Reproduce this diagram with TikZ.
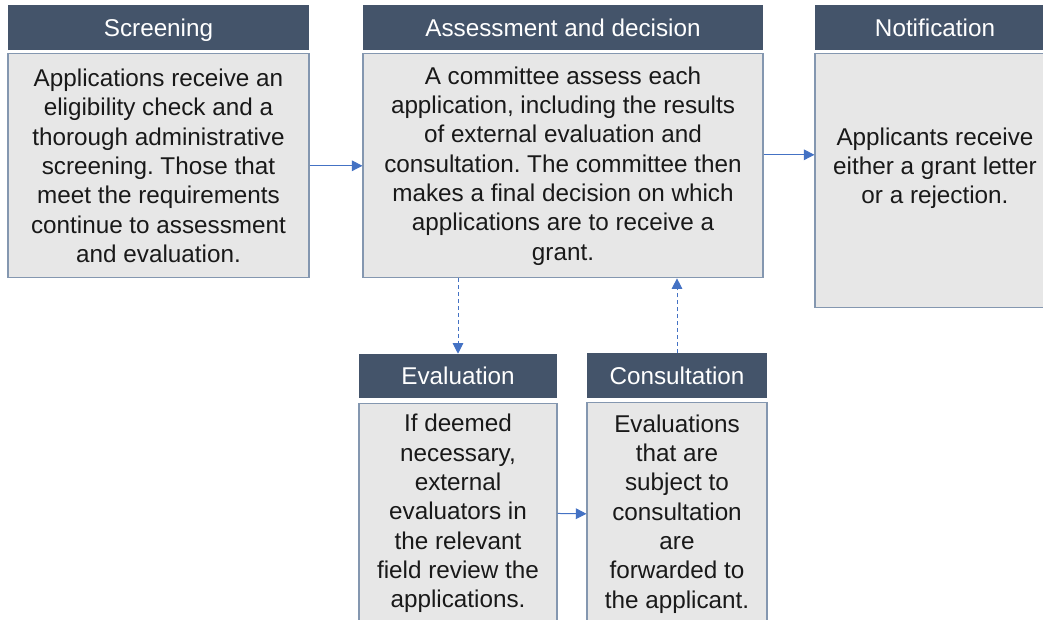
\documentclass[tikz,border=0pt]{standalone}
\usepackage{fontspec}
\setmainfont{Liberation Sans}
\frenchspacing
\usepackage{tikz}
\usetikzlibrary{positioning, arrows.meta}
\definecolor{headblue}{HTML}{44546A}
\definecolor{boxgray}{HTML}{E7E7E7}
\definecolor{boxline}{HTML}{8497B0}
\definecolor{arrowblue}{HTML}{4472C4}
\tikzstyle{stephead} = [rectangle, minimum height=33.75pt, inner sep=0pt, text height=13pt, text depth=0pt, text centered, fill=headblue, text=white, font=\fontsize{18.2}{22}\selectfont]
\tikzstyle{stepbody} = [rectangle, inner sep=0pt, align=center, draw=boxline, line width=0.8pt, fill=boxgray, text=black!90, font=\fontsize{18.2}{22}\selectfont]
\tikzstyle{arrow} = [draw=arrowblue, line width=0.75pt, -{Triangle[length=8pt,width=8pt]}]
\tikzstyle{dasharrow} = [arrow, dash pattern=on 3pt off 2.2pt]

\begin{document}
\begin{tikzpicture}[x=0.75pt, y=-0.75pt]

    \path [use as bounding box, clip] (0,0) rectangle (1043,620);

    % Top row
    \node (scrhead) [stephead, minimum width=225.75pt] at (158.5,27.5) {Screening};
    \node (scrbody) [stepbody, minimum width=225.75pt, minimum height=168pt, below=2.25pt of scrhead]
        {Applications receive an\\eligibility check and a\\thorough administrative\\screening. Those that\\meet the requirements\\continue to assessment\\and evaluation.};

    \node (asshead) [stephead, minimum width=300pt] at (563,27.5) {Assessment and decision};
    \node (assbody) [stepbody, minimum width=300pt, minimum height=168pt, below=2.25pt of asshead]
        {A committee assess each\\application, including the results\\of external evaluation and\\consultation. The committee then\\makes a final decision on which\\applications are to receive a\\grant.};

    \node (nothead) [stephead, minimum width=180pt] at (935,27.5) {Notification};
    \node (notbody) [stepbody, minimum width=180pt, text height=112.5pt, text depth=78pt, below=2.25pt of nothead]
        {Applicants receive\\either a grant letter\\or a rejection.};

    % Bottom row
    \node (evalhead) [stephead, minimum width=148.5pt, minimum height=33pt] at (458,376) {Evaluation};
    \node (evalbody) [stepbody, minimum width=148.5pt, minimum height=165pt, below=3.5pt of evalhead]
        {If deemed\\necessary,\\external\\evaluators in\\the relevant\\field review the\\applications.};

    \node (conshead) [stephead, minimum width=135pt] at (677,375.5) {Consultation};
    \node (consbody) [stepbody, minimum width=135pt, minimum height=166.5pt, below=3pt of conshead]
        {Evaluations\\that are\\subject to\\consultation\\are\\forwarded to\\the applicant.};

    % Arrows
    \coordinate (assout) at ([yshift=8.25pt]assbody.east);
    \draw [arrow] (scrbody.east) -- (assbody.west);
    \draw [arrow] (assout) -- (assout -| notbody.west);
    \draw [arrow] (evalbody.east) -- (consbody.west);
    \draw [dasharrow] (assbody.south -| evalhead.north) -- (evalhead.north);
    \draw [dasharrow] (conshead.north) -- (conshead.north |- assbody.south);

\end{tikzpicture}
\end{document}
